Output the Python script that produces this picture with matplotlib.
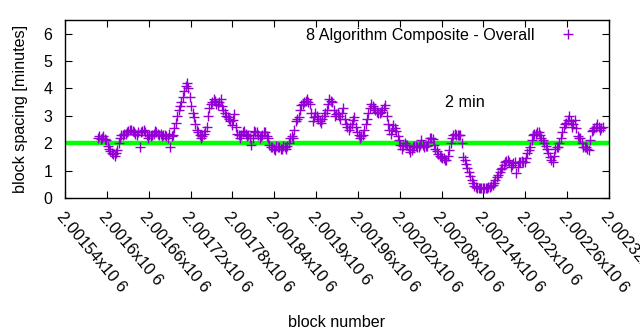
import numpy as np
import matplotlib
matplotlib.use("Agg")
import matplotlib.pyplot as plt

plt.rcParams['font.family'] = ['Liberation Sans', 'DejaVu Sans']

# block numbers (sampled every 4 blocks) and block spacing in minutes
block_start = 2001587
block_step = 4
spacing = [
    2.2, 2.15, 2.25, 2.1, 1.8, 1.65, 1.55, 1.75, 2.2, 2.3,
    2.35, 2.45, 2.5, 2.4, 2.3, 1.85, 2.45, 2.4, 2.2, 2.25,
    2.35, 2.4, 2.3, 2.25, 2.3, 2.2, 1.85, 2.3, 2.75, 3.2,
    3.5, 3.9, 4.2, 3.67, 3.1, 2.7, 2.4, 2.2, 2.35, 2.6,
    3.3, 3.5, 3.55, 3.4, 3.6, 3.2, 3.0, 2.9, 2.65, 3.05,
    2.35, 2.2, 2.4, 2.35, 2.3, 1.93, 2.45, 2.4, 2.2, 2.3,
    2.4, 2.2, 1.85, 1.8, 1.9, 1.85, 1.8, 1.85, 1.9, 2.2,
    2.2, 2.8, 2.95, 3.4, 3.5, 3.63, 3.45, 2.8, 3.1, 2.9,
    2.75, 3.0, 3.2, 3.6, 3.5, 3.0, 3.1, 2.9, 3.3, 2.7,
    2.47, 2.7, 2.95, 2.4, 2.2, 2.3, 2.7, 3.1, 3.45, 3.3,
    3.15, 3.1, 3.2, 3.38, 2.7, 2.35, 2.65, 2.45, 2.1, 1.8,
    2.0, 1.95, 1.67, 1.85, 1.9, 1.85, 2.1, 1.85, 1.9, 2.2,
    2.15, 1.8, 1.6, 1.5, 1.45, 1.38, 1.75, 2.2, 2.35, 2.3,
    2.3, 1.5, 1.25, 0.95, 0.65, 0.45, 0.36, 0.35, 0.38, 0.37,
    0.4, 0.42, 0.55, 0.75, 0.95, 1.1, 1.3, 1.4, 1.13, 1.27,
    0.9, 1.3, 1.35, 1.3, 1.63, 1.85, 2.3, 2.35, 2.4, 2.2,
    2.0, 1.8, 1.5, 1.3, 1.8, 1.85, 2.2, 2.6, 2.75, 3.0,
    2.6, 2.85, 2.25, 2.2, 1.85, 1.85, 1.75, 2.45, 2.55, 2.7, 2.5, 2.6,
]
# the blocks lying between the ones above (start + 2, every 4 blocks)
spacing_mid = [
    2.25, 2.2, 2.15, 1.9, 1.7, 1.6, 1.65, 2.0, 2.3, 2.35,
    2.4, 2.5, 2.45, 2.35, 2.4, 2.4, 2.5, 2.3, 2.3, 2.3,
    2.45, 2.35, 2.35, 2.3, 2.25, 2.35, 2.25, 2.55, 3.0, 3.35,
    3.7, 4.1, 4.0, 3.35, 2.95, 2.5, 2.3, 2.25, 2.45, 3.0,
    3.45, 3.6, 3.45, 3.5, 3.35, 3.1, 2.95, 2.8, 2.85, 2.6,
    2.3, 2.3, 2.45, 2.25, 2.2, 2.2, 2.4, 2.3, 2.25, 2.4,
    2.25, 1.95, 1.85, 1.75, 1.85, 1.8, 1.9, 1.8, 2.0, 2.25,
    2.5, 2.9, 3.2, 3.45, 3.55, 3.5, 3.1, 2.95, 3.0, 2.8,
    2.9, 3.1, 3.45, 3.55, 3.2, 3.05, 3.0, 3.1, 2.9, 2.6,
    2.6, 2.85, 2.6, 2.3, 2.25, 2.5, 2.9, 3.3, 3.35, 3.2,
    3.1, 3.15, 3.3, 3.0, 2.5, 2.5, 2.55, 2.25, 1.95, 1.9,
    1.95, 1.8, 1.75, 1.9, 1.85, 1.95, 1.95, 1.9, 2.05, 2.2,
    1.95, 1.7, 1.55, 1.45, 1.4, 1.55, 2.0, 2.3, 2.3, 2.3,
    2.0, 1.4, 1.1, 0.8, 0.55, 0.4, 0.35, 0.37, 0.36, 0.38,
    0.4, 0.48, 0.65, 0.85, 1.05, 1.2, 1.35, 1.3, 1.2, 1.3,
    1.15, 1.32, 1.3, 1.45, 1.75, 2.1, 2.35, 2.4, 2.3, 2.1,
    1.9, 1.65, 1.4, 1.55, 1.85, 2.0, 2.4, 2.7, 2.85, 2.8,
    2.7, 2.55, 2.2, 2.0, 1.85, 1.8, 2.1, 2.5, 2.6, 2.6, 2.55,
]
blocks = block_start + block_step * np.arange(len(spacing))
blocks_mid = block_start + 2 + block_step * np.arange(len(spacing_mid))

all_blocks = np.concatenate([blocks, blocks_mid])
all_spacing = np.concatenate([spacing, spacing_mid])
order = np.argsort(all_blocks)
all_blocks = all_blocks[order]
all_spacing = all_spacing[order]

target_minutes = 2
x_min, x_max = 2001540, 2002320
x_ticks = list(range(2001540, 2002321, 60))
x_tick_labels = ["%gx10 6" % (t / 1e6) for t in x_ticks]
y_ticks = [0, 1, 2, 3, 4, 5, 6]

fig = plt.figure(figsize=(6.4, 3.3), dpi=100)
ax = fig.add_axes([65/640, 1 - 198/330, 544/640, 178/330])

ax.axhline(target_minutes, color='#00ff00', lw=3.2, zorder=2)
ax.plot(all_blocks, all_spacing, linestyle='none', marker='+', markersize=7,
        markeredgewidth=1.0, color='#9400d3', zorder=3,
        label='8 Algorithm Composite - Overall')

ax.set_xlim(x_min, x_max)
ax.set_ylim(0, 6.5)
ax.set_xticks(x_ticks)
ax.set_xticklabels(x_tick_labels, rotation=-50, ha='left', va='top',
                   rotation_mode='anchor', fontsize=11.8)
ax.set_yticks(y_ticks)
ax.set_yticklabels([str(v) for v in y_ticks], fontsize=11.5)
ax.tick_params(direction='in', length=5, width=0.8, top=True, right=True,
               labeltop=False, labelright=False)
ax.tick_params(axis='x', pad=8)
ax.tick_params(axis='y', pad=9)
for s in ax.spines.values():
    s.set_linewidth(1.0)

ax.set_xlabel('block number', fontsize=11.6, labelpad=14)
ax.set_ylabel('block spacing [minutes]', fontsize=11.6, labelpad=11)

ax.text(2002085, 3.5, '2 min', fontsize=11.6, ha='left', va='center')

leg = ax.legend(loc='upper right', frameon=False, markerfirst=False,
                fontsize=11.6, handlelength=1.6, borderaxespad=0.2,
                handletextpad=1.3, bbox_to_anchor=(0.967, 1.01))

fig.savefig('out.png', dpi=100)
